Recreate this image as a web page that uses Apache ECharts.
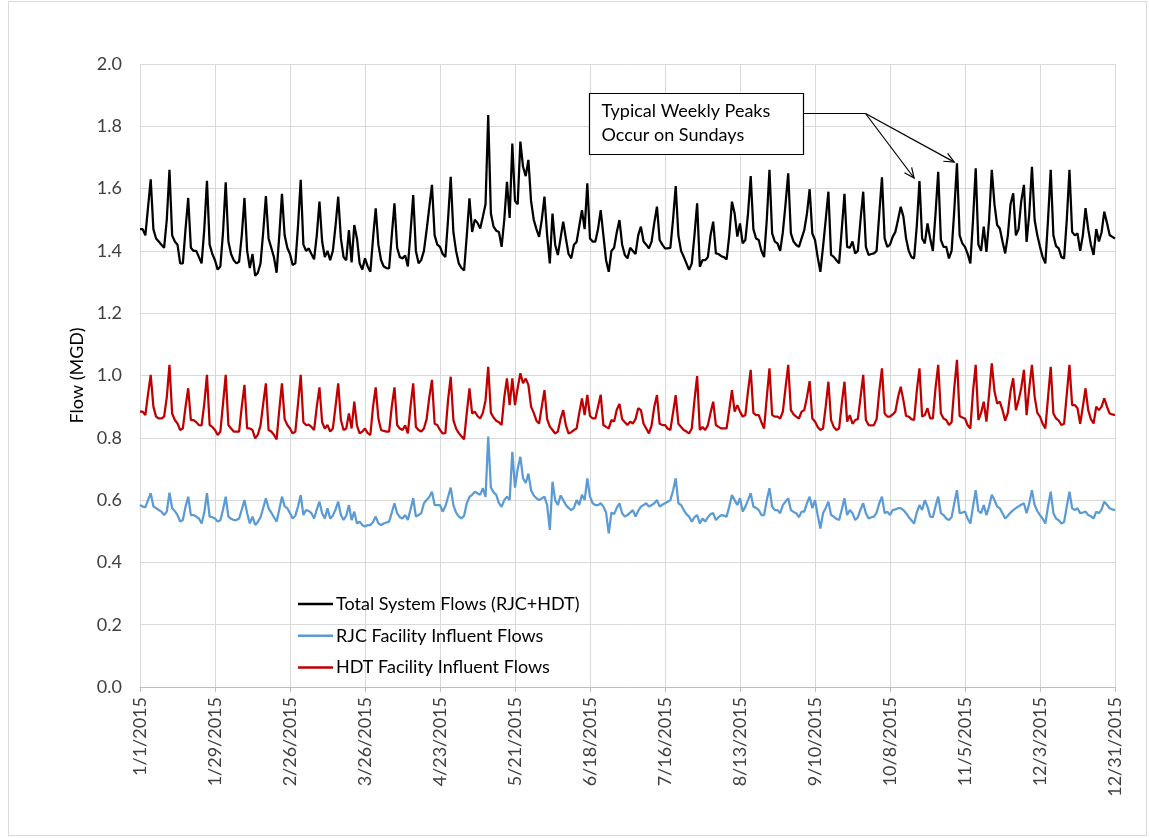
<!DOCTYPE html>
<html>
<head>
<meta charset="utf-8">
<script src="https://cdn.jsdelivr.net/npm/echarts@6/dist/echarts.min.js"></script>
<style>
  html, body { margin: 0; padding: 0; background: #ffffff; }
  #chart { width: 1149px; height: 838px; }
</style>
</head>
<body>
<div id="chart"></div>
<script>
// Daily flows for 2015 (MGD), one row per week starting Thu 1/1/2015
const totalFlow = [
  1.47, 1.47, 1.45, 1.54, 1.63, 1.47, 1.44,
  1.43, 1.42, 1.41, 1.50, 1.66, 1.45, 1.43,
  1.42, 1.36, 1.36, 1.47, 1.57, 1.41, 1.40,
  1.40, 1.38, 1.36, 1.47, 1.625, 1.42, 1.39,
  1.37, 1.34, 1.35, 1.46, 1.62, 1.43, 1.39,
  1.37, 1.36, 1.365, 1.45, 1.57, 1.40, 1.345,
  1.39, 1.32, 1.33, 1.36, 1.46, 1.576, 1.44,
  1.41, 1.38, 1.33, 1.45, 1.583, 1.45, 1.41,
  1.39, 1.355, 1.36, 1.48, 1.628, 1.42, 1.40,
  1.408, 1.39, 1.373, 1.45, 1.558, 1.43, 1.38,
  1.40, 1.37, 1.40, 1.48, 1.574, 1.44, 1.38,
  1.37, 1.467, 1.363, 1.483, 1.44, 1.36, 1.34,
  1.376, 1.35, 1.333, 1.44, 1.537, 1.42, 1.37,
  1.35, 1.345, 1.344, 1.45, 1.553, 1.41, 1.38,
  1.376, 1.385, 1.35, 1.46, 1.579, 1.40, 1.36,
  1.371, 1.40, 1.467, 1.54, 1.612, 1.45, 1.42,
  1.413, 1.39, 1.38, 1.50, 1.638, 1.46, 1.40,
  1.36, 1.345, 1.337, 1.45, 1.569, 1.461, 1.50,
  1.49, 1.472, 1.51, 1.55, 1.836, 1.52, 1.478,
  1.465, 1.461, 1.413, 1.50, 1.622, 1.506, 1.745,
  1.56, 1.55, 1.751, 1.67, 1.64, 1.692, 1.56,
  1.50, 1.47, 1.445, 1.50, 1.574, 1.45, 1.36,
  1.52, 1.42, 1.387, 1.44, 1.494, 1.44, 1.39,
  1.376, 1.42, 1.429, 1.48, 1.531, 1.47, 1.617,
  1.44, 1.43, 1.43, 1.47, 1.531, 1.45, 1.37,
  1.333, 1.40, 1.41, 1.46, 1.499, 1.42, 1.387,
  1.376, 1.41, 1.40, 1.39, 1.45, 1.478, 1.43,
  1.42, 1.408, 1.43, 1.49, 1.542, 1.435, 1.42,
  1.408, 1.408, 1.41, 1.50, 1.608, 1.45, 1.40,
  1.381, 1.36, 1.339, 1.36, 1.45, 1.553, 1.349,
  1.37, 1.37, 1.38, 1.45, 1.494, 1.392, 1.39,
  1.383, 1.38, 1.373, 1.45, 1.558, 1.52, 1.446,
  1.488, 1.424, 1.435, 1.52, 1.640, 1.47, 1.44,
  1.435, 1.40, 1.38, 1.50, 1.660, 1.456, 1.43,
  1.424, 1.40, 1.46, 1.55, 1.649, 1.456, 1.43,
  1.419, 1.413, 1.44, 1.467, 1.52, 1.598, 1.456,
  1.435, 1.38, 1.333, 1.413, 1.50, 1.590, 1.387,
  1.381, 1.37, 1.36, 1.47, 1.583, 1.413, 1.41,
  1.43, 1.392, 1.40, 1.50, 1.590, 1.413, 1.387,
  1.39, 1.392, 1.40, 1.52, 1.636, 1.44, 1.413,
  1.42, 1.445, 1.461, 1.50, 1.542, 1.51, 1.44,
  1.40, 1.38, 1.376, 1.48, 1.624, 1.44, 1.424,
  1.488, 1.44, 1.40, 1.52, 1.654, 1.435, 1.413,
  1.413, 1.376, 1.40, 1.53, 1.681, 1.45, 1.424,
  1.413, 1.39, 1.36, 1.50, 1.665, 1.42, 1.40,
  1.478, 1.397, 1.50, 1.66, 1.55, 1.483, 1.472,
  1.43, 1.392, 1.45, 1.55, 1.585, 1.45, 1.47,
  1.56, 1.612, 1.429, 1.52, 1.67, 1.499, 1.45,
  1.413, 1.38, 1.36, 1.50, 1.66, 1.45, 1.415,
  1.408, 1.38, 1.376, 1.50, 1.66, 1.461, 1.45,
  1.456, 1.40, 1.45, 1.537, 1.47, 1.42, 1.387,
  1.47, 1.43, 1.46, 1.526, 1.49, 1.451, 1.445,
  1.44
];

const rjcFlow = [
  0.584, 0.579, 0.577, 0.60, 0.622, 0.58, 0.574,
  0.568, 0.563, 0.552, 0.563, 0.624, 0.574, 0.565,
  0.552, 0.531, 0.536, 0.579, 0.611, 0.552, 0.552,
  0.547, 0.541, 0.525, 0.56, 0.622, 0.547, 0.545,
  0.541, 0.531, 0.535, 0.57, 0.611, 0.547, 0.540,
  0.536, 0.536, 0.541, 0.57, 0.600, 0.558, 0.525,
  0.547, 0.520, 0.53, 0.545, 0.575, 0.606, 0.574,
  0.56, 0.545, 0.531, 0.57, 0.611, 0.58, 0.574,
  0.558, 0.541, 0.55, 0.58, 0.616, 0.552, 0.568,
  0.565, 0.558, 0.541, 0.57, 0.595, 0.558, 0.541,
  0.574, 0.541, 0.55, 0.57, 0.595, 0.552, 0.536,
  0.55, 0.584, 0.536, 0.563, 0.525, 0.531, 0.52,
  0.515, 0.52, 0.520, 0.53, 0.547, 0.525, 0.520,
  0.525, 0.528, 0.531, 0.56, 0.590, 0.558, 0.545,
  0.541, 0.552, 0.536, 0.57, 0.606, 0.547, 0.552,
  0.558, 0.590, 0.600, 0.61, 0.627, 0.584, 0.584,
  0.584, 0.563, 0.58, 0.61, 0.640, 0.584, 0.560,
  0.548, 0.541, 0.55, 0.59, 0.610, 0.617, 0.627,
  0.622, 0.617, 0.638, 0.61, 0.804, 0.64, 0.625,
  0.617, 0.590, 0.578, 0.60, 0.611, 0.600, 0.755,
  0.64, 0.70, 0.739, 0.67, 0.655, 0.685, 0.632,
  0.615, 0.606, 0.600, 0.605, 0.611, 0.584, 0.504,
  0.659, 0.600, 0.584, 0.615, 0.60, 0.584, 0.575,
  0.568, 0.575, 0.600, 0.584, 0.617, 0.60, 0.670,
  0.611, 0.590, 0.584, 0.584, 0.590, 0.579, 0.56,
  0.493, 0.56, 0.555, 0.575, 0.590, 0.558, 0.547,
  0.552, 0.56, 0.568, 0.547, 0.565, 0.579, 0.584,
  0.590, 0.579, 0.584, 0.59, 0.600, 0.579, 0.585,
  0.590, 0.595, 0.60, 0.63, 0.670, 0.590, 0.584,
  0.568, 0.555, 0.547, 0.531, 0.545, 0.552, 0.525,
  0.541, 0.531, 0.545, 0.555, 0.558, 0.536, 0.545,
  0.552, 0.55, 0.547, 0.58, 0.616, 0.60, 0.584,
  0.606, 0.563, 0.579, 0.60, 0.622, 0.579, 0.575,
  0.568, 0.552, 0.552, 0.60, 0.638, 0.579, 0.568,
  0.568, 0.558, 0.584, 0.595, 0.606, 0.568, 0.562,
  0.558, 0.545, 0.563, 0.563, 0.59, 0.611, 0.574,
  0.600, 0.552, 0.509, 0.558, 0.575, 0.595, 0.552,
  0.547, 0.540, 0.536, 0.57, 0.606, 0.552, 0.568,
  0.558, 0.536, 0.545, 0.57, 0.590, 0.558, 0.541,
  0.545, 0.547, 0.56, 0.59, 0.611, 0.558, 0.563,
  0.552, 0.568, 0.57, 0.574, 0.574, 0.568, 0.558,
  0.545, 0.535, 0.525, 0.56, 0.584, 0.568, 0.600,
  0.579, 0.547, 0.545, 0.58, 0.611, 0.558, 0.552,
  0.541, 0.536, 0.545, 0.59, 0.632, 0.558, 0.56,
  0.563, 0.54, 0.525, 0.58, 0.632, 0.565, 0.558,
  0.584, 0.552, 0.58, 0.617, 0.60, 0.579, 0.574,
  0.558, 0.541, 0.55, 0.56, 0.568, 0.574, 0.58,
  0.585, 0.590, 0.558, 0.59, 0.632, 0.584, 0.565,
  0.552, 0.54, 0.525, 0.58, 0.627, 0.558, 0.541,
  0.535, 0.525, 0.53, 0.58, 0.627, 0.574, 0.568,
  0.574, 0.558, 0.56, 0.563, 0.552, 0.548, 0.541,
  0.563, 0.558, 0.57, 0.595, 0.585, 0.574, 0.57,
  0.568
];

const hdtFlow = [
  0.884, 0.884, 0.873, 0.94, 1.002, 0.90, 0.868,
  0.862, 0.862, 0.868, 0.93, 1.034, 0.878, 0.857,
  0.846, 0.825, 0.830, 0.899, 0.959, 0.857, 0.857,
  0.85, 0.841, 0.84, 0.91, 1.002, 0.841, 0.835,
  0.825, 0.809, 0.82, 0.91, 1.002, 0.841, 0.83,
  0.820, 0.820, 0.820, 0.90, 0.970, 0.830, 0.83,
  0.825, 0.798, 0.81, 0.84, 0.91, 0.975, 0.825,
  0.82, 0.81, 0.795, 0.89, 0.975, 0.86, 0.841,
  0.83, 0.814, 0.82, 0.91, 1.002, 0.85, 0.841,
  0.842, 0.835, 0.825, 0.90, 0.962, 0.85, 0.83,
  0.841, 0.820, 0.83, 0.90, 0.975, 0.857, 0.825,
  0.83, 0.878, 0.830, 0.916, 0.84, 0.814, 0.82,
  0.830, 0.815, 0.809, 0.90, 0.962, 0.862, 0.825,
  0.822, 0.82, 0.820, 0.90, 0.962, 0.841, 0.83,
  0.825, 0.84, 0.814, 0.90, 0.975, 0.835, 0.825,
  0.820, 0.830, 0.86, 0.93, 0.986, 0.845, 0.841,
  0.825, 0.814, 0.815, 0.92, 0.996, 0.857, 0.830,
  0.815, 0.805, 0.795, 0.88, 0.959, 0.878, 0.884,
  0.870, 0.862, 0.88, 0.92, 1.028, 0.88, 0.865,
  0.855, 0.850, 0.841, 0.93, 0.991, 0.905, 0.991,
  0.905, 0.96, 1.007, 0.975, 0.99, 0.97, 0.90,
  0.88, 0.855, 0.846, 0.90, 0.953, 0.86, 0.836,
  0.825, 0.814, 0.82, 0.86, 0.889, 0.84, 0.814,
  0.818, 0.825, 0.830, 0.88, 0.926, 0.873, 0.938,
  0.87, 0.862, 0.862, 0.90, 0.938, 0.841, 0.835,
  0.830, 0.857, 0.852, 0.89, 0.909, 0.86, 0.85,
  0.841, 0.852, 0.846, 0.86, 0.895, 0.889, 0.845,
  0.83, 0.814, 0.84, 0.90, 0.937, 0.845, 0.841,
  0.841, 0.830, 0.825, 0.88, 0.937, 0.845, 0.835,
  0.825, 0.82, 0.814, 0.83, 0.92, 0.998, 0.825,
  0.835, 0.825, 0.84, 0.88, 0.916, 0.841, 0.835,
  0.830, 0.83, 0.830, 0.89, 0.953, 0.884, 0.905,
  0.884, 0.868, 0.873, 0.95, 1.018, 0.88, 0.873,
  0.873, 0.85, 0.830, 0.93, 1.023, 0.873, 0.868,
  0.868, 0.862, 0.884, 0.96, 1.034, 0.889, 0.875,
  0.868, 0.862, 0.884, 0.889, 0.93, 0.982, 0.862,
  0.852, 0.835, 0.825, 0.830, 0.90, 0.980, 0.857,
  0.835, 0.825, 0.83, 0.91, 0.980, 0.852, 0.873,
  0.845, 0.857, 0.86, 0.93, 1.002, 0.857, 0.841,
  0.84, 0.841, 0.86, 0.95, 1.023, 0.878, 0.868,
  0.868, 0.875, 0.884, 0.93, 0.964, 0.921, 0.87,
  0.868, 0.86, 0.857, 0.95, 1.023, 0.868, 0.873,
  0.895, 0.862, 0.862, 0.96, 1.034, 0.878, 0.862,
  0.857, 0.841, 0.85, 0.96, 1.050, 0.87, 0.865,
  0.862, 0.840, 0.830, 0.95, 1.034, 0.857, 0.88,
  0.916, 0.852, 0.94, 1.039, 0.95, 0.910, 0.916,
  0.889, 0.855, 0.88, 0.95, 0.991, 0.889, 0.92,
  0.96, 1.018, 0.873, 0.96, 1.034, 0.932, 0.88,
  0.868, 0.845, 0.830, 0.93, 1.028, 0.878, 0.862,
  0.855, 0.841, 0.845, 0.94, 1.034, 0.905, 0.905,
  0.895, 0.845, 0.90, 0.959, 0.889, 0.86, 0.846,
  0.90, 0.889, 0.90, 0.927, 0.90, 0.878, 0.875,
  0.873
];

const seriesNames = [
  'Total System Flows (RJC+HDT)',
  'RJC Facility Influent Flows',
  'HDT Facility Influent Flows'
];
const seriesColors = ['#000000', '#5b9bd5', '#c00000'];

// Date categories, one per day of 2015
const dayLabels = [];
for (let i = 0; i < totalFlow.length; i++) {
  const d = new Date(2015, 0, 1 + i);
  dayLabels.push((d.getMonth() + 1) + '/' + d.getDate() + '/' + d.getFullYear());
}

// Callout text and the two Sunday peaks it points at ([day index, flow])
const calloutLines = ['Typical Weekly Peaks', 'Occur on Sundays'];
const calloutTargets = [[289.3, 1.634], [304.2, 1.685]];

const FONT = 'Lato, "Open Sans", "Liberation Sans", sans-serif';
const FONT_SIZE = 18;
const TEXT_COLOR = '#404040';
const GRID_COLOR = '#d9d9d9';

const chart = echarts.init(document.getElementById('chart'), null, { renderer: 'canvas' });

function makeSeries(name, data, color) {
  return {
    name: name,
    type: 'line',
    data: data,
    symbol: 'none',
    smooth: false,
    lineStyle: { color: color, width: 2.25 },
    itemStyle: { color: color },
    emphasis: { disabled: true }
  };
}

const option = {
  animation: false,
  backgroundColor: '#ffffff',
  textStyle: { fontFamily: FONT },
  grid: { left: 140, right: 34, top: 64, bottom: 151, containLabel: false },
  legend: {
    orient: 'vertical',
    left: 293,
    top: 588,
    itemWidth: 35,
    itemHeight: 2.5,
    itemGap: 9.7,
    icon: 'rect',
    data: seriesNames,
    selectedMode: false,
    textStyle: { fontFamily: FONT, fontSize: FONT_SIZE, color: '#000000', lineHeight: 22, padding: [0, 0, 0, -2] }
  },
  xAxis: {
    type: 'category',
    data: dayLabels,
    boundaryGap: false,
    axisLine: { show: true, lineStyle: { color: '#bfbfbf', width: 1 } },
    axisTick: { show: true, interval: 27, length: 5, lineStyle: { color: '#bfbfbf' } },
    axisLabel: {
      interval: 27,
      rotate: 90,
      margin: 10,
      fontFamily: FONT,
      fontSize: FONT_SIZE,
      color: TEXT_COLOR
    },
    splitLine: { show: true, interval: 27, lineStyle: { color: GRID_COLOR, width: 1 } }
  },
  yAxis: {
    type: 'value',
    min: 0,
    max: 2,
    interval: 0.2,
    name: 'Flow (MGD)',
    nameLocation: 'middle',
    nameGap: 54,
    nameRotate: 90,
    nameTextStyle: { fontFamily: FONT, fontSize: FONT_SIZE, color: '#000000' },
    axisLine: { show: false },
    axisTick: { show: false },
    axisLabel: {
      margin: 18,
      fontFamily: FONT,
      fontSize: FONT_SIZE,
      color: TEXT_COLOR,
      formatter: v => v.toFixed(1)
    },
    splitLine: { show: true, lineStyle: { color: GRID_COLOR, width: 1 } }
  },
  series: [
    makeSeries(seriesNames[0], totalFlow, seriesColors[0]),
    makeSeries(seriesNames[1], rjcFlow, seriesColors[1]),
    makeSeries(seriesNames[2], hdtFlow, seriesColors[2])
  ]
};

chart.setOption(option);

// Callout box with a leader line that splits into two arrows
const box = { x: 589.5, y: 93.5, w: 214, h: 61 };
const junction = [865.5, 113.5];
const tips = calloutTargets.map(t => chart.convertToPixel({ gridIndex: 0 }, t));

function arrowHead(from, to, len, spread) {
  const ang = Math.atan2(to[1] - from[1], to[0] - from[0]);
  const a1 = ang + Math.PI - spread, a2 = ang + Math.PI + spread;
  return [
    [to[0] + len * Math.cos(a1), to[1] + len * Math.sin(a1)],
    to,
    [to[0] + len * Math.cos(a2), to[1] + len * Math.sin(a2)]
  ];
}

const graphics = [
  {
    type: 'rect',
    shape: { x: 8.5, y: 1.5, width: 1138, height: 834 },
    style: { fill: 'none', stroke: '#d9d9d9', lineWidth: 1 },
    silent: true, z: 0
  },
  {
    type: 'rect',
    shape: { x: box.x, y: box.y, width: box.w, height: box.h },
    style: { fill: '#ffffff', stroke: '#000000', lineWidth: 1.2 },
    z: 100
  },
  {
    type: 'text',
    x: box.x + 12,
    y: box.y + 6,
    style: {
      text: calloutLines.join('\n'),
      font: FONT_SIZE + 'px ' + FONT,
      lineHeight: 24,
      fill: '#000000'
    },
    z: 101
  },
  {
    type: 'polyline',
    shape: { points: [[box.x + box.w, junction[1]], junction] },
    style: { stroke: '#000000', lineWidth: 1.2, fill: 'none' },
    z: 100
  }
];
tips.forEach(tp => {
  graphics.push({
    type: 'polyline',
    shape: { points: [junction, tp] },
    style: { stroke: '#000000', lineWidth: 1.2, fill: 'none' },
    z: 100
  });
  graphics.push({
    type: 'polyline',
    shape: { points: arrowHead(junction, tp, 11, 0.42) },
    style: { stroke: '#000000', lineWidth: 1.2, fill: 'none' },
    z: 100
  });
});

chart.setOption({ graphic: graphics });
</script>
</body>
</html>
